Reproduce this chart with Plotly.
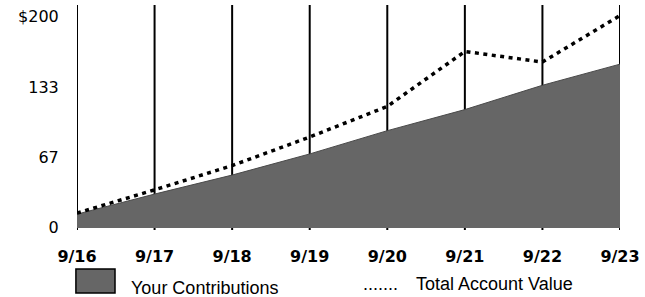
import plotly.graph_objects as go

dates = ["9/16", "9/17", "9/18", "9/19", "9/20", "9/21", "9/22", "9/23"]
contributions = [13, 32, 50, 70, 92, 112, 135, 155]
total_value = [14, 36, 59, 86, 115, 167, 157, 201]
y_tickvals = [0, 67, 133, 200]
y_ticktext = ["0", "67", "133", "$200"]
legend_labels = ["Your Contributions", "Total Account Value"]

x_idx = list(range(len(dates)))

fig = go.Figure()

# vertical gridlines at each date (drawn below traces)
for i in x_idx:
    fig.add_shape(type="line", xref="x", yref="paper", x0=i, x1=i, y0=0, y1=1,
                  line=dict(color="black", width=2), layer="below")

fig.add_trace(go.Scatter(x=x_idx, y=contributions, mode="lines", fill="tozeroy",
                         fillcolor="#666666", line=dict(color="#4a4a4a", width=1),
                         showlegend=False, hoverinfo="skip"))
fig.add_trace(go.Scatter(x=x_idx, y=total_value, mode="lines",
                         line=dict(color="black", width=3.5, dash="4px,4.5px"),
                         showlegend=False, hoverinfo="skip"))

# custom legend
legend_font = dict(family="Liberation Sans", size=18, color="black")
fig.add_shape(type="rect", xref="paper", yref="paper", x0=-0.002, x1=0.07, y0=-0.28, y1=-0.173,
              fillcolor="#666666", line=dict(color="black", width=1.5))
fig.add_annotation(xref="paper", yref="paper", x=0.095, y=-0.258, text=legend_labels[0],
                   showarrow=False, xanchor="left", yanchor="middle", font=legend_font)
fig.add_annotation(xref="paper", yref="paper", x=0.621, y=-0.242, text=legend_labels[1],
                   showarrow=False, xanchor="left", yanchor="middle", font=legend_font)
fig.add_annotation(xref="paper", yref="paper", x=0.5594, y=-0.242, text=".......",
                   showarrow=False, xanchor="center", yanchor="middle", font=legend_font)

fig.update_xaxes(range=[0, 7], tickvals=x_idx, ticktext=dates, showgrid=False, zeroline=False,
                 showline=False, ticks="outside", ticklen=12, tickcolor="rgba(0,0,0,0)",
                 tickfont=dict(family="DejaVu Sans", size=16, color="black", weight="bold"))
fig.update_yaxes(range=[-2, 211], tickvals=y_tickvals, ticktext=y_ticktext, showgrid=False,
                 zeroline=False, showline=False, ticks="outside", ticklen=14,
                 tickcolor="rgba(0,0,0,0)",
                 tickfont=dict(family="DejaVu Sans", size=16, color="black"))

fig.update_layout(width=645, height=297, margin=dict(l=77, r=21, t=5, b=67),
                  plot_bgcolor="white", paper_bgcolor="white")

fig.write_html("out.html", config={"displayModeBar": False},
               post_script="document.body.style.margin='0';")
